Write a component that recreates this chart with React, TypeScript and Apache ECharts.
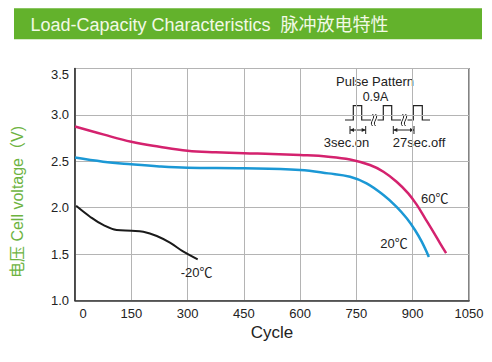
import React, { useEffect, useRef } from "react";
import * as echarts from "echarts";

const xTicks = [0, 150, 300, 450, 600, 750, 900, 1050];
const yTicks = [1.0, 1.5, 2.0, 2.5, 3.0, 3.5];

const cycles60 = [0, 75, 150, 225, 300, 375, 450, 525, 600, 675, 733, 786, 822, 857, 888, 911, 933, 955, 973, 989];
const volts60 = [2.875, 2.79, 2.71, 2.657, 2.614, 2.597, 2.586, 2.58, 2.568, 2.55, 2.52, 2.46, 2.388, 2.28, 2.155, 2.03, 1.886, 1.74, 1.616, 1.51];

const cycles20 = [0, 75, 150, 225, 300, 450, 600, 675, 733, 777, 822, 857, 884, 906, 924, 943];
const volts20 = [2.54, 2.496, 2.468, 2.445, 2.431, 2.425, 2.406, 2.37, 2.334, 2.263, 2.137, 2.01, 1.886, 1.76, 1.634, 1.47];

const cyclesM20 = [3, 40, 75, 111, 151, 182, 218, 253, 289, 327];
const voltsM20 = [2.02, 1.903, 1.814, 1.76, 1.752, 1.741, 1.695, 1.623, 1.526, 1.444];

const seriesNames = ["60℃", "20℃", "-20℃"];
const labelCoords: [number, number][] = [[959, 2.094], [850, 1.609], [324, 1.3]];

const title = "Load-Capacity Characteristics";
const titleCn = "脉冲放电特性";
const yName = "电压 Cell voltage（V)";
const xName = "Cycle";
const pulseTitle = "Pulse Pattern";
const pulseCurrent = "0.9A";

const FONT = "'Liberation Sans', Arial, 'Noto Sans CJK SC', sans-serif";

function pairs(xs: number[], ys: number[]) {
  return xs.map((x, i) => [x, ys[i]]);
}

export default function App() {
  const ref = useRef<HTMLDivElement>(null);
  useEffect(() => {
    if (!ref.current) return;
    const chart = echarts.init(ref.current, undefined, { renderer: "svg" });
    const colors = ["#d4226e", "#1b98d5", "#1a1a1a"];
    const datas = [pairs(cycles60, volts60), pairs(cycles20, volts20), pairs(cyclesM20, voltsM20)];
    const lineW = [2.5, 2.5, 2];
    const baseY = 120, highY = 105.7;
    const wave = (pts: number[][]) => ({
      type: "polyline",
      shape: { points: pts },
      style: { stroke: "#222", lineWidth: 1.2, fill: null },
      silent: true,
    });
    const squiggle = (x: number) => ([
      {
        type: "bezierCurve",
        shape: { x1: x, y1: 114, x2: x, y2: 126, cpx1: x + 4, cpy1: 118, cpx2: x - 4, cpy2: 122 },
        style: { stroke: "#222", lineWidth: 1, fill: null },
      },
      {
        type: "bezierCurve",
        shape: { x1: x + 3, y1: 114, x2: x + 3, y2: 126, cpx1: x + 7, cpy1: 118, cpx2: x - 1, cpy2: 122 },
        style: { stroke: "#222", lineWidth: 1, fill: null },
      },
    ]);
    const dim = (a: number, b: number) => ([
      { type: "line", shape: { x1: a, y1: 126, x2: a, y2: 134 }, style: { stroke: "#222", lineWidth: 1 } },
      { type: "line", shape: { x1: b, y1: 126, x2: b, y2: 134 }, style: { stroke: "#222", lineWidth: 1 } },
      { type: "line", shape: { x1: a, y1: 130, x2: b, y2: 130 }, style: { stroke: "#222", lineWidth: 1 } },
      { type: "polygon", shape: { points: [[a, 130], [a + 4, 128], [a + 4, 132]] }, style: { fill: "#222" } },
      { type: "polygon", shape: { points: [[b, 130], [b - 4, 128], [b - 4, 132]] }, style: { fill: "#222" } },
    ]);

    chart.setOption({
      animation: false,
      backgroundColor: "#ffffff",
      textStyle: { fontFamily: FONT },
      grid: { left: 75, right: 23, top: 68.5, bottom: 61.5, show: true, borderColor: "#333", borderWidth: 1.2 },
      xAxis: {
        type: "value",
        min: xTicks[0],
        max: xTicks[xTicks.length - 1],
        interval: 150,
        name: xName,
        nameLocation: "middle",
        nameGap: 17,
        nameTextStyle: { fontSize: 17, color: "#222", fontFamily: FONT },
        axisLine: { show: true, lineStyle: { color: "#333", width: 1.5 } },
        axisTick: { show: false },
        splitLine: { show: true, lineStyle: { color: "#b4b4b4", width: 1 } },
        axisLabel: {
          margin: 6,
          fontSize: 13,
          color: "#222",
          fontFamily: FONT,
          formatter: (v: number) => (v === 0 ? "{z|0}" : String(v)),
          rich: { z: { padding: [0, 0, 0, 16], fontSize: 13, color: "#222", fontFamily: FONT } },
        },
      },
      yAxis: {
        type: "value",
        min: yTicks[0],
        max: yTicks[yTicks.length - 1],
        interval: 0.5,
        axisLine: { show: true, lineStyle: { color: "#333", width: 1.5 } },
        axisTick: { show: false },
        splitLine: { show: true, lineStyle: { color: "#b4b4b4", width: 1 } },
        axisLabel: {
          margin: 6,
          fontSize: 13,
          color: "#222",
          fontFamily: FONT,
          formatter: (v: number) => (v === 3.5 ? "{t|3.5}" : v.toFixed(1)),
          rich: { t: { padding: [12, 0, 0, 0], fontSize: 13, color: "#222", fontFamily: FONT } },
        },
      },
      series: datas.map((d, i) => ({
        type: "line",
        name: seriesNames[i],
        data: d,
        smooth: 0.4,
        symbol: "none",
        lineStyle: { color: colors[i], width: lineW[i] },
        itemStyle: { color: colors[i] },
        markPoint: {
          symbol: "circle",
          symbolSize: 0,
          silent: true,
          data: [{ coord: labelCoords[i], value: seriesNames[i] }],
          label: {
            show: true,
            position: "inside",
            formatter: seriesNames[i],
            fontSize: 13,
            color: "#222",
            fontFamily: FONT,
          },
        },
      })),
      graphic: [
        { type: "rect", shape: { x: 14, y: 8.3, width: 468, height: 31 }, style: { fill: "#63b22c" }, silent: true },
        {
          type: "text",
          x: 30.5,
          y: 24.5,
          style: {
            text: title + "  " + titleCn,
            fontSize: 18,
            fontFamily: FONT,
            fill: "#f2f9e6",
            verticalAlign: "middle",
            align: "left",
          },
        },
        {
          type: "text",
          x: 17,
          y: 202,
          rotation: Math.PI / 2,
          style: {
            text: yName,
            fontSize: 16,
            fontFamily: FONT,
            fill: "#6db33f",
            align: "center",
            verticalAlign: "middle",
          },
        },
        { type: "text", x: 375, y: 81, style: { text: pulseTitle, fontSize: 13, fontFamily: FONT, fill: "#222", align: "center", verticalAlign: "middle" } },
        { type: "text", x: 375.5, y: 96.5, style: { text: pulseCurrent, fontSize: 12.5, fontFamily: FONT, fill: "#222", align: "center", verticalAlign: "middle" } },
        { type: "text", x: 346.5, y: 142, style: { text: "3sec.on", fontSize: 13, fontFamily: FONT, fill: "#222", align: "center", verticalAlign: "middle" } },
        { type: "text", x: 419, y: 142, style: { text: "27sec.off", fontSize: 13, fontFamily: FONT, fill: "#222", align: "center", verticalAlign: "middle" } },
        wave([[345, baseY], [353.3, baseY], [353.3, highY], [361.7, highY], [361.7, baseY], [371, baseY]]),
        wave([[377.5, baseY], [383.3, baseY], [383.3, highY], [391.7, highY], [391.7, baseY], [401, baseY]]),
        wave([[407.5, baseY], [413.3, baseY], [413.3, highY], [422.3, highY], [422.3, baseY], [430, baseY]]),
        ...squiggle(372.5),
        ...squiggle(402.5),
        ...dim(350, 365.7),
        ...dim(393.3, 414),
      ],
    });
    return () => chart.dispose();
  }, []);
  return (
    <div
      ref={ref}
      style={{ position: "fixed", left: 0, top: 0, width: 492, height: 362, background: "#fff" }}
    />
  );
}
